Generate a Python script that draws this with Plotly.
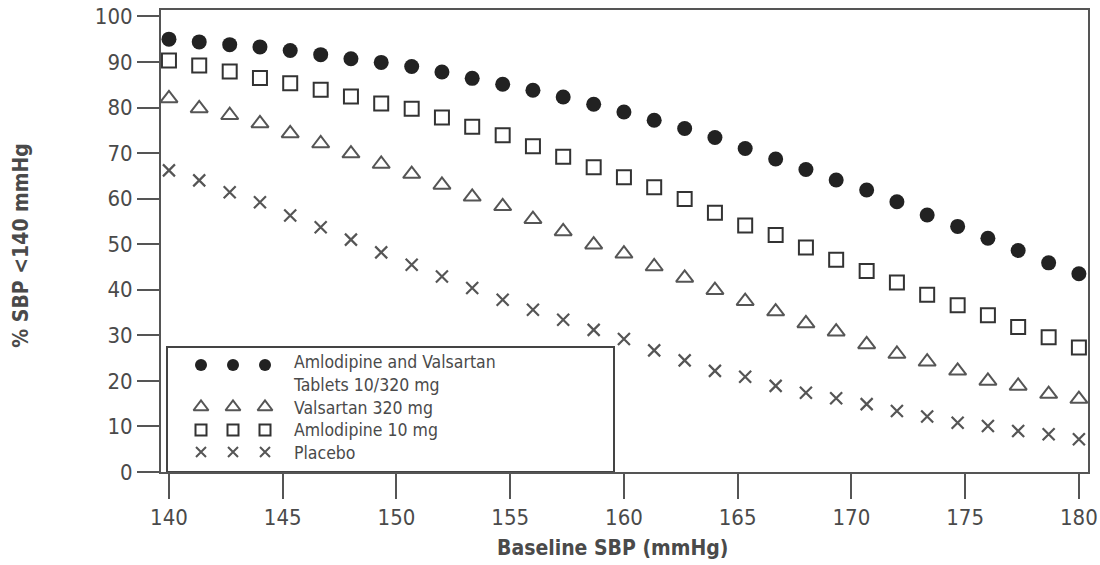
import plotly.graph_objects as go

# ---- data ----
baseline_sbp = [140.00, 141.33, 142.67, 144.00, 145.33, 146.67, 148.00, 149.33, 150.67, 152.00,
                153.33, 154.67, 156.00, 157.33, 158.67, 160.00, 161.33, 162.67, 164.00, 165.33,
                166.67, 168.00, 169.33, 170.67, 172.00, 173.33, 174.67, 176.00, 177.33, 178.67, 180.00]

amlo_valsartan = [95.0, 94.4, 93.8, 93.3, 92.5, 91.6, 90.7, 89.9, 89.0, 87.8, 86.4, 85.1, 83.8, 82.3,
                  80.7, 79.0, 77.2, 75.4, 73.4, 71.0, 68.7, 66.4, 64.1, 61.9, 59.3, 56.4, 53.9, 51.3,
                  48.6, 45.9, 43.5]
amlodipine_10 = [90.3, 89.2, 87.9, 86.5, 85.3, 83.9, 82.4, 80.9, 79.7, 77.8, 75.8, 73.9, 71.5, 69.2,
                 66.9, 64.7, 62.5, 59.9, 56.9, 54.1, 52.0, 49.3, 46.6, 44.1, 41.6, 38.9, 36.6, 34.4,
                 31.8, 29.6, 27.3]
valsartan_320 = [82.0, 79.8, 78.3, 76.5, 74.3, 72.1, 69.9, 67.6, 65.4, 63.0, 60.4, 58.3, 55.5, 52.8,
                 49.9, 47.9, 45.1, 42.6, 39.9, 37.5, 35.2, 32.6, 30.8, 28.0, 25.9, 24.2, 22.2, 20.0,
                 18.9, 17.1, 16.0]
placebo = [66.2, 64.0, 61.4, 59.2, 56.3, 53.7, 51.0, 48.2, 45.5, 42.9, 40.4, 37.8, 35.6, 33.4,
           31.2, 29.2, 26.7, 24.5, 22.2, 20.9, 18.9, 17.4, 16.2, 14.9, 13.4, 12.2, 10.8, 10.1,
           9.0, 8.3, 7.2]

x_ticks = [140, 145, 150, 155, 160, 165, 170, 175, 180]
y_ticks = [0, 10, 20, 30, 40, 50, 60, 70, 80, 90, 100]

legend_lines = ["Amlodipine and Valsartan", "Tablets 10/320 mg", "Valsartan 320 mg",
                "Amlodipine 10 mg", "Placebo"]

FONT = "Liberation Sans Narrow, Arial Narrow, DejaVu Sans Condensed, sans-serif"
TXT = "#4a4a4a"
AX = "#555555"

# ---- figure ----
fig = go.Figure()

styles = [
    (amlo_valsartan, dict(symbol="circle", size=15, color="#222222", line=dict(width=0))),
    (amlodipine_10, dict(symbol="square-open", size=14, color="#333333", line=dict(width=2, color="#333333"))),
    (valsartan_320, dict(symbol="triangle-up-open", size=15, color="#555555", line=dict(width=2, color="#555555"))),
    (placebo, dict(symbol="x-thin-open", size=12, color="#555555", line=dict(width=2.2, color="#555555"))),
]
for vals, mk in styles:
    fig.add_trace(go.Scatter(x=baseline_sbp, y=vals, mode="markers", marker=mk,
                             showlegend=False, hoverinfo="skip"))

# ---- manual legend on a pixel-like overlay axis ----
leg_sym_x = [201, 233, 265]
leg_rows = [  # (y pixel, marker)
    (365, dict(symbol="circle", size=12, color="#222222")),
    (407, dict(symbol="triangle-up-open", size=13, color="#555555", line=dict(width=2, color="#555555"))),
    (430, dict(symbol="square-open", size=11, color="#333333", line=dict(width=2, color="#333333"))),
    (452, dict(symbol="x-thin-open", size=10, color="#555555", line=dict(width=2, color="#555555"))),
]
for yy, mk in leg_rows:
    fig.add_trace(go.Scatter(x=leg_sym_x, y=[yy] * 3, mode="markers", marker=mk,
                             xaxis="x2", yaxis="y2", showlegend=False, hoverinfo="skip"))

fig.add_shape(type="rect", xref="x2", yref="y2", x0=167, x1=614, y0=347, y1=472,
              line=dict(color="#444444", width=2), fillcolor="white", layer="below")

fig.add_annotation(xref="x2", yref="y2", x=291, y=407, text="<br>".join(legend_lines),
                   showarrow=False, xanchor="left", yanchor="middle", align="left",
                   font=dict(family=FONT, size=17.5, color=TXT))

# axis titles
fig.add_annotation(xref="paper", yref="paper", x=-0.151, y=0.49, text="% SBP <140 mmHg",
                   textangle=-90, showarrow=False, xanchor="center", yanchor="middle",
                   font=dict(family=FONT, size=21, color=TXT, weight="bold"))
fig.add_annotation(xref="x", yref="paper", x=159.5, y=-0.165, text="Baseline SBP (mmHg)",
                   showarrow=False, xanchor="center", yanchor="middle",
                   font=dict(family=FONT, size=21, color=TXT, weight="bold"))

fig.update_layout(
    width=1100, height=565,
    margin=dict(l=161, r=12, t=10, b=93),
    paper_bgcolor="white", plot_bgcolor="white",
    font=dict(family=FONT, size=22, color=TXT),
    xaxis=dict(range=[139.65, 180.4], tickvals=x_ticks, ticks="outside", ticklen=25,
               tickwidth=2, tickcolor=AX, showline=True, linecolor=AX, linewidth=2,
               mirror=True, showgrid=False, zeroline=False, automargin=False,
               tickfont=dict(family=FONT, size=22, color=TXT)),
    yaxis=dict(range=[0, 101.4], tickvals=y_ticks, ticks="outside", ticklen=22,
               tickwidth=2, tickcolor=AX, showline=True, linecolor=AX, linewidth=2,
               mirror=True, showgrid=False, zeroline=False, automargin=False,
               tickfont=dict(family=FONT, size=22, color=TXT)),
    xaxis2=dict(range=[161, 1088], overlaying="x", visible=False, fixedrange=True, automargin=False),
    yaxis2=dict(range=[472, 10], overlaying="y", visible=False, fixedrange=True, automargin=False),
)

fig.write_html("out.html", config={"displayModeBar": False},
               post_script="document.body.style.margin='0';document.body.style.overflow='hidden';")
